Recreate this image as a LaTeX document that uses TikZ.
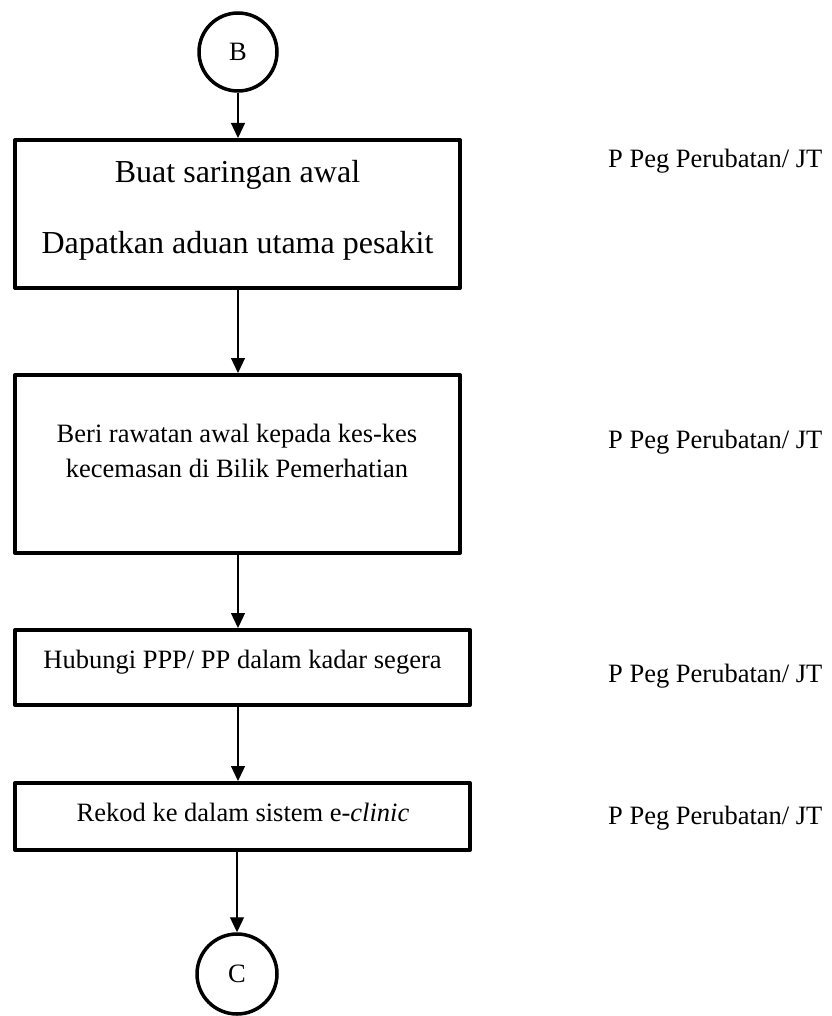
\documentclass[tikz,border=0pt]{standalone}
\usepackage{fontspec}
\setmainfont{Liberation Serif}
\usetikzlibrary{arrows.meta}
\begin{document}
\begin{tikzpicture}[x=1pt,y=-1pt,
  box/.style={draw,line width=4pt,rectangle,inner sep=0pt,line join=round},
  term/.style={draw,circle,line width=3.5pt,inner sep=0pt,font=\fontsize{26.5}{30}\selectfont},
  arr/.style={line width=1.3pt,-{Triangle[width=14pt,length=15pt]}},
  txt/.style={anchor=base,inner sep=0pt,font=\fontsize{26.5}{30}\selectfont},
  bigtxt/.style={anchor=base,inner sep=0pt,font=\fontsize{32}{36}\selectfont},
  role/.style={anchor=base west,inner sep=0pt,font=\fontsize{26.5}{30}\selectfont}]
\useasboundingbox (0,0) rectangle (831,1016);

% terminators
\node[term,minimum size=78pt] (B) at (238,52) {B};
\node[term,minimum size=80pt] (C) at (237,974) {C};

% boxes
\node[box,minimum width=445pt,minimum height=148pt] (b1) at (237.5,214) {};
\node[box,minimum width=445pt,minimum height=178pt] (b2) at (237.5,464) {};
\node[box,minimum width=455pt,minimum height=75pt] (b3) at (242.5,667.5) {};
\node[box,minimum width=455pt,minimum height=67pt] (b4) at (242.5,816.5) {};

% box texts
\node[bigtxt] (t1a) at (237.5,183) {Buat saringan awal};
\node[bigtxt] (t1b) at (237.5,253) {Dapatkan aduan utama pesakit};
\node[txt] (t2a) at (237,442) {Beri rawatan awal kepada kes-kes};
\node[txt] (t2b) at (237,477) {kecemasan di Bilik Pemerhatian};
\node[txt] (t3) at (242.5,668) {Hubungi PPP/ PP dalam kadar segera};
\node[txt] (t4) at (243,821) {Rekod ke dalam sistem e-\textit{clinic}};

% role labels
\node[role] (r1) at (608,168) {P Peg Perubatan/ JT};
\node[role] (r2) at (608,448) {P Peg Perubatan/ JT};
\node[role] (r3) at (608,682) {P Peg Perubatan/ JT};
\node[role] (r4) at (608,824) {P Peg Perubatan/ JT};

% connectors
\draw[arr] (B.south) -- (B.south |- b1.north);
\draw[arr] (b1.south -| B.south) -- (b2.north -| B.south);
\draw[arr] (b2.south -| B.south) -- (b3.north -| B.south);
\draw[arr] (b3.south -| B.south) -- (b4.north -| B.south);
\draw[arr] (b4.south -| C.north) -- (C.north);
\end{tikzpicture}
\end{document}
